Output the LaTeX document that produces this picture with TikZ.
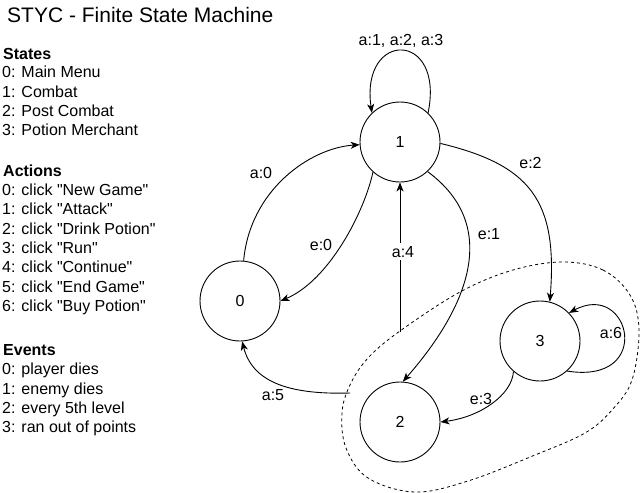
\documentclass[tikz,border=0pt]{standalone}
\usepackage{fontspec}
\setmainfont{Liberation Sans}[Ligatures=TeXOff]
\usetikzlibrary{arrows.meta}
\begin{document}
\begin{tikzpicture}[x=1pt,y=-1pt,
  state/.style={circle,draw,line width=0.9pt,minimum size=80pt,inner sep=0pt,font=\fontsize{16}{19}\selectfont},
  edge/.style={draw,line width=0.9pt,-{Stealth[length=9pt,width=7pt,inset=2.5pt]}},
  elabel/.style={anchor=base,inner sep=1pt,font=\fontsize{16}{19}\selectfont},
  legend/.style={anchor=base west,inner sep=0pt,font=\fontsize{16}{19}\selectfont},
  legendhead/.style={anchor=base west,inner sep=0pt,font=\fontsize{16}{19}\selectfont\bfseries},
  grp/.style={draw,line width=0.8pt,dash pattern=on 3pt off 3pt}]
\useasboundingbox (0,0) rectangle (641,493);

% title and legend
\node[anchor=base west,inner sep=0pt,font=\fontsize{21}{25}\selectfont] (title) at (7,22) {STYC - Finite State Machine};
\node[legendhead] (hs) at (3,59) {States};
\node[legend] (s0) at (2,77.5) {0: Main Menu};
\node[legend] (s1) at (2,97) {1: Combat};
\node[legend] (s2) at (2,116) {2: Post Combat};
\node[legend] (s3) at (2,135.5) {3: Potion Merchant};
\node[legendhead] (ha) at (3,176) {Actions};
\node[legend] (a0) at (2,195) {0: click "New Game"};
\node[legend] (a1) at (2,214.5) {1: click "Attack"};
\node[legend] (a2) at (2,234) {2: click "Drink Potion"};
\node[legend] (a3) at (2,253) {3: click "Run"};
\node[legend] (a4) at (2,272.5) {4: click "Continue"};
\node[legend] (a5) at (2,292) {5: click "End Game"};
\node[legend] (a6) at (2,311) {6: click "Buy Potion"};
\node[legendhead] (he) at (3,355) {Events};
\node[legend] (e0) at (2,374.5) {0: player dies};
\node[legend] (e1) at (2,394) {1: enemy dies};
\node[legend] (e2) at (2,413) {2: every 5th level};
\node[legend] (e3) at (2,432.5) {3: ran out of points};

% group outline
\draw[grp] plot[smooth cycle, tension=0.6] coordinates {
  (563,262) (603,270) (630,295) (639,330) (632,380) (612,410) (585,433)
  (535,455) (468,481) (415,492) (368,478) (346,448) (342,413) (350,385)
  (368,358) (400,331) (460,292) (513,270)};
\coordinate (g4) at (400,332);
\coordinate (g5) at (350,393);

% states
\node[state] (n0) at (240,301) {0};
\node[state] (n1) at (400,142) {1};
\node[state] (n2) at (400,422) {2};
\node[state] (n3) at (540,341) {3};

% transitions
\draw[edge] (n0) .. controls (250,190) and (310,148) .. (n1);
\draw[edge] (n1.228) .. controls (365,210) and (330,280) .. (n0.east);
\draw[edge] (n1.313) .. controls (500,225) and (470,305) .. (n2.86);
\draw[edge] (n1.-2) .. controls (530,165) and (558,200) .. (n3.76);
\draw[edge] (n3.229) .. controls (512,395) and (480,417) .. (n2.east);
\draw[edge] (g4) -- (n1.south);
\draw[edge] (g5) .. controls (285,395) and (252,380) .. (n0.-87);
\draw[edge] (n3.312) .. controls (655,385) and (630,280) .. (n3.44);
\draw[edge] (n1.46) .. controls (445,30) and (360,30) .. (n1.134);

% labels
\node[elabel] (la0) at (261,178) {a:0};
\node[elabel] (le0) at (321,250) {e:0};
\node[elabel] (le1) at (489,239) {e:1};
\node[elabel] (le2) at (530.5,168) {e:2};
\node[elabel] (le3) at (481,404) {e:3};
\node[elabel,fill=white,inner sep=3pt] (la4) at (403,257) {a:4};
\node[elabel] (la5) at (273,400) {a:5};
\node[elabel] (la6) at (611,338) {a:6};
\node[elabel] (la123) at (401,45.5) {a:1, a:2, a:3};
\end{tikzpicture}
\end{document}
